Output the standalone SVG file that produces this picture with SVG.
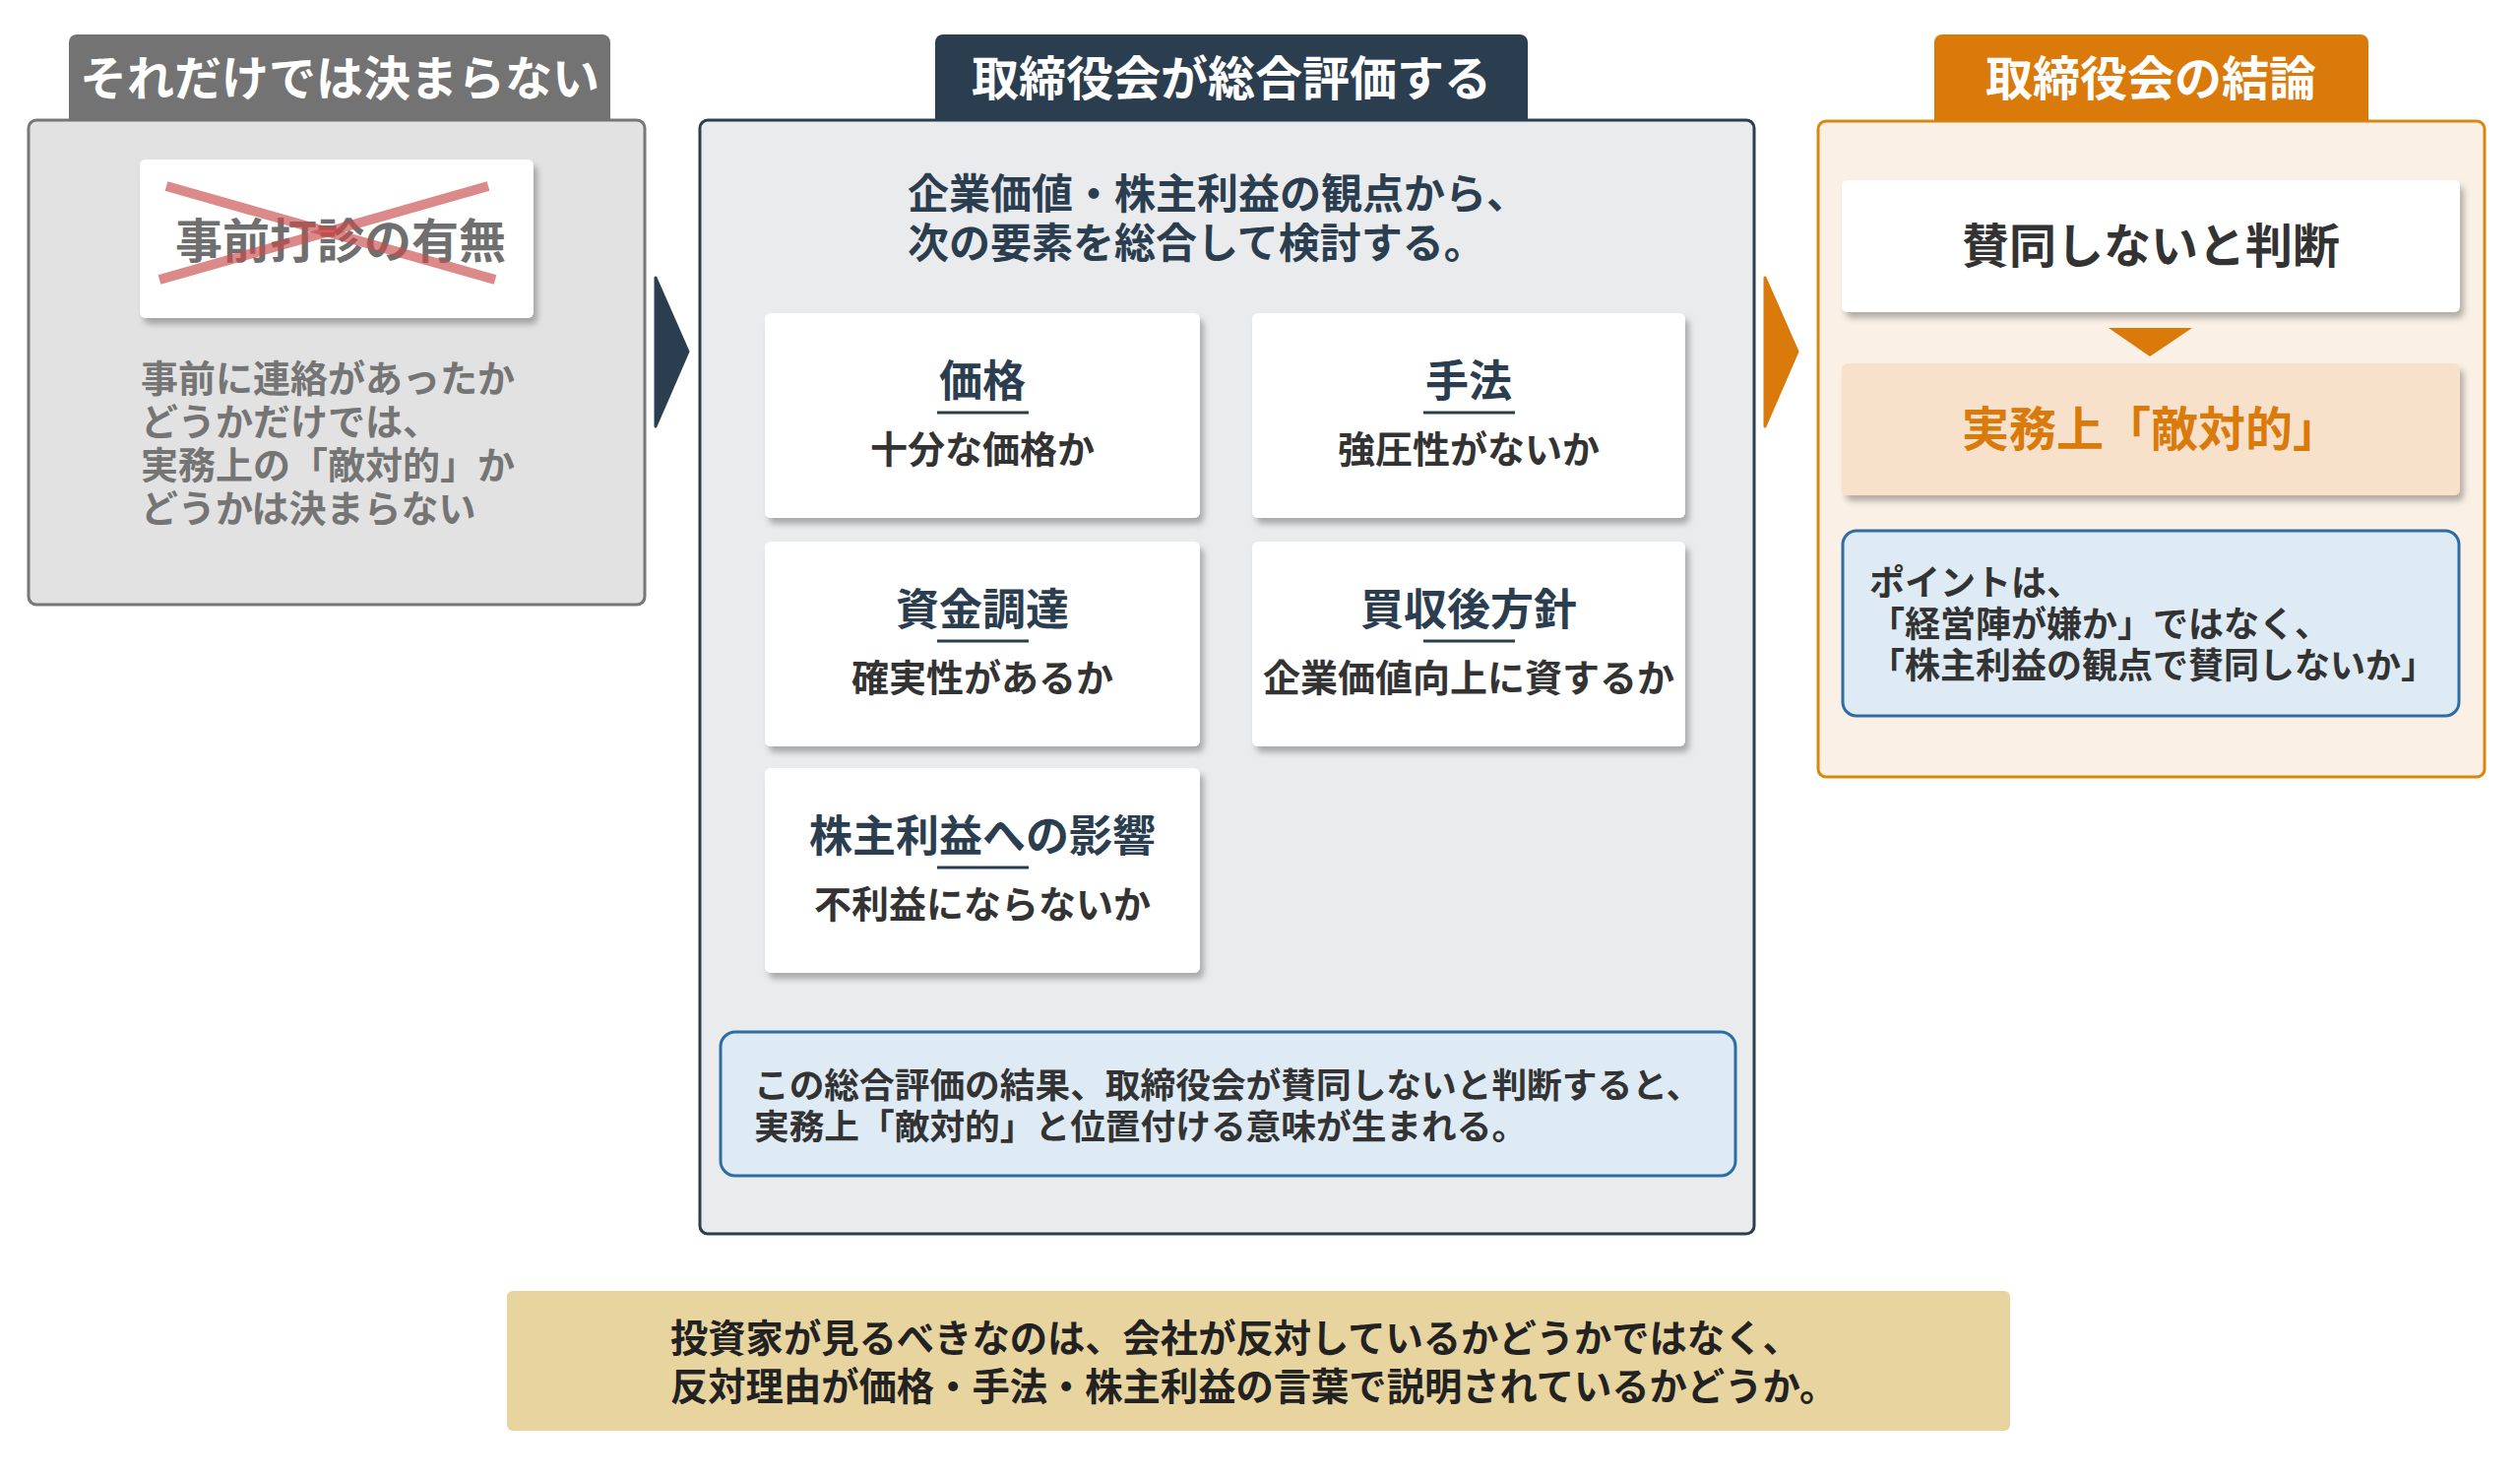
<svg xmlns="http://www.w3.org/2000/svg" width="2560" height="1502" viewBox="0 0 2560 1502">
<defs>
<filter id="sh" x="-10%" y="-10%" width="130%" height="140%">
<feDropShadow dx="4" dy="6" stdDeviation="3" flood-color="#000" flood-opacity="0.28"/>
</filter>
<style>
text{font-family:"Noto Sans CJK JP","Noto Sans CJK SC",sans-serif;font-weight:700}
.tab{font-size:48px;fill:#fff;text-anchor:middle}
.ct{font-size:44px;fill:#2b3e50;text-anchor:middle}
.cs{font-size:38px;fill:#333;text-anchor:middle}
.card{fill:#fff;filter:url(#sh)}
.ul{stroke:#2b3e50;stroke-width:3}
</style>
</defs>
<rect width="2560" height="1502" fill="#fff"/>

<g id="left">
<rect x="29" y="122" width="626" height="492" rx="8" fill="#e2e2e2" stroke="#777" stroke-width="3"/>
<path d="M70,123 V43 a8,8 0 0 1 8,-8 H612 a8,8 0 0 1 8,8 V123 Z" fill="#737373"/>
<text class="tab" x="345" y="97">それだけでは決まらない</text>
<rect x="142" y="162" width="400" height="161" rx="6" fill="#fff" filter="url(#sh)"/>
<text x="346" y="262" font-size="48" fill="#6f6f6f" text-anchor="middle">事前打診の有無</text>
<g stroke="#c84a4a" stroke-opacity="0.65" stroke-width="10">
<line x1="169" y1="189" x2="503" y2="284"/>
<line x1="162" y1="284" x2="496" y2="189"/>
</g>
<g font-size="38" fill="#757575">
<text x="143" y="398">事前に連絡があったか</text>
<text x="143" y="442">どうかだけでは、</text>
<text x="143" y="486">実務上の「敵対的」か</text>
<text x="143" y="530">どうかは決まらない</text>
</g>
</g>

<g id="middle">
<rect x="711" y="122" width="1071" height="1131" rx="8" fill="#e9ebed" stroke="#2b3e50" stroke-width="3"/>
<path d="M950,123 V43 a8,8 0 0 1 8,-8 H1544 a8,8 0 0 1 8,8 V123 Z" fill="#2b3e50"/>
<text class="tab" x="1251" y="97">取締役会が総合評価する</text>
<g font-size="42" fill="#2b3e50">
<text x="922" y="212">企業価値・株主利益の観点から、</text>
<text x="922" y="262">次の要素を総合して検討する。</text>
</g>
</g>

<g id="card-price">
<rect class="card" x="777" y="318" width="442" height="208" rx="6"/>
<text class="ct" x="998" y="403">価格</text>
<line class="ul" x1="952" y1="419" x2="1045" y2="419"/>
<text class="cs" x="998" y="470">十分な価格か</text>
</g>
<g id="card-method">
<rect class="card" x="1272" y="318" width="440" height="208" rx="6"/>
<text class="ct" x="1492" y="403">手法</text>
<line class="ul" x1="1446" y1="419" x2="1539" y2="419"/>
<text class="cs" x="1492" y="470">強圧性がないか</text>
</g>
<g id="card-funding">
<rect class="card" x="777" y="550" width="442" height="208" rx="6"/>
<text class="ct" x="998" y="635">資金調達</text>
<line class="ul" x1="952" y1="651" x2="1045" y2="651"/>
<text class="cs" x="998" y="702">確実性があるか</text>
</g>
<g id="card-policy">
<rect class="card" x="1272" y="550" width="440" height="208" rx="6"/>
<text class="ct" x="1492" y="635">買収後方針</text>
<line class="ul" x1="1446" y1="651" x2="1539" y2="651"/>
<text class="cs" x="1492" y="702">企業価値向上に資するか</text>
</g>
<g id="card-shareholder">
<rect class="card" x="777" y="780" width="442" height="208" rx="6"/>
<text class="ct" x="998" y="865">株主利益への影響</text>
<line class="ul" x1="952" y1="881" x2="1045" y2="881"/>
<text class="cs" x="998" y="932">不利益にならないか</text>
</g>

<g id="middle-note">
<rect x="732" y="1048" width="1031" height="146" rx="15" fill="#deebf5" stroke="#2e6da4" stroke-width="3"/>
<g font-size="35.7" fill="#333">
<text x="766" y="1115">この総合評価の結果、取締役会が賛同しないと判断すると、</text>
<text x="766" y="1157">実務上「敵対的」と位置付ける意味が生まれる。</text>
</g>
</g>

<g id="right">
<rect x="1847" y="123" width="677" height="666" rx="8" fill="#faf0e6" stroke="#d9880f" stroke-width="3"/>
<path d="M1965,123 V43 a8,8 0 0 1 8,-8 H2398 a8,8 0 0 1 8,8 V123 Z" fill="#d97a0a"/>
<text class="tab" x="2185" y="97">取締役会の結論</text>
</g>
<g id="r-judge">
<rect x="1871" y="183" width="628" height="134" rx="6" fill="#fff" filter="url(#sh)"/>
<text x="2185" y="267" font-size="48" fill="#333" text-anchor="middle">賛同しないと判断</text>
</g>
<g id="r-hostile">
<rect x="1871" y="369" width="628" height="134" rx="6" fill="#f8e1ca" filter="url(#sh)"/>
<text x="2185" y="453" font-size="48" fill="#d97a0a" text-anchor="middle">実務上「敵対的」</text>
</g>
<g id="r-point">
<rect x="1872" y="539" width="626" height="188" rx="14" fill="#deebf5" stroke="#2e6da4" stroke-width="3"/>
<g font-size="36" fill="#333">
<text x="1899" y="605">ポイントは、</text>
<text x="1899" y="647">「経営陣が嫌か」ではなく、</text>
<text x="1899" y="689">「株主利益の観点で賛同しないか」</text>
</g>
</g>

<g id="bottom">
<rect x="515" y="1311" width="1527" height="142" rx="6" fill="#e8d49f"/>
<g font-size="38.3" fill="#222" style="font-weight:500">
<text x="681" y="1373">投資家が見るべきなのは、会社が反対しているかどうかではなく、</text>
<text x="681" y="1422">反対理由が価格・手法・株主利益の言葉で説明されているかどうか。</text>
</g>
</g>

<g id="connectors">
<polygon points="666,282 699,357 666,433" fill="#2b3e50" stroke="#2b3e50" stroke-width="3" stroke-linejoin="round"/>
<polygon points="1793,282 1826,357 1793,433" fill="#d97a0a" stroke="#d97a0a" stroke-width="3" stroke-linejoin="round"/>
<polygon points="2142,333 2227,333 2184,362" fill="#d97a0a"/>
</g>
</svg>
